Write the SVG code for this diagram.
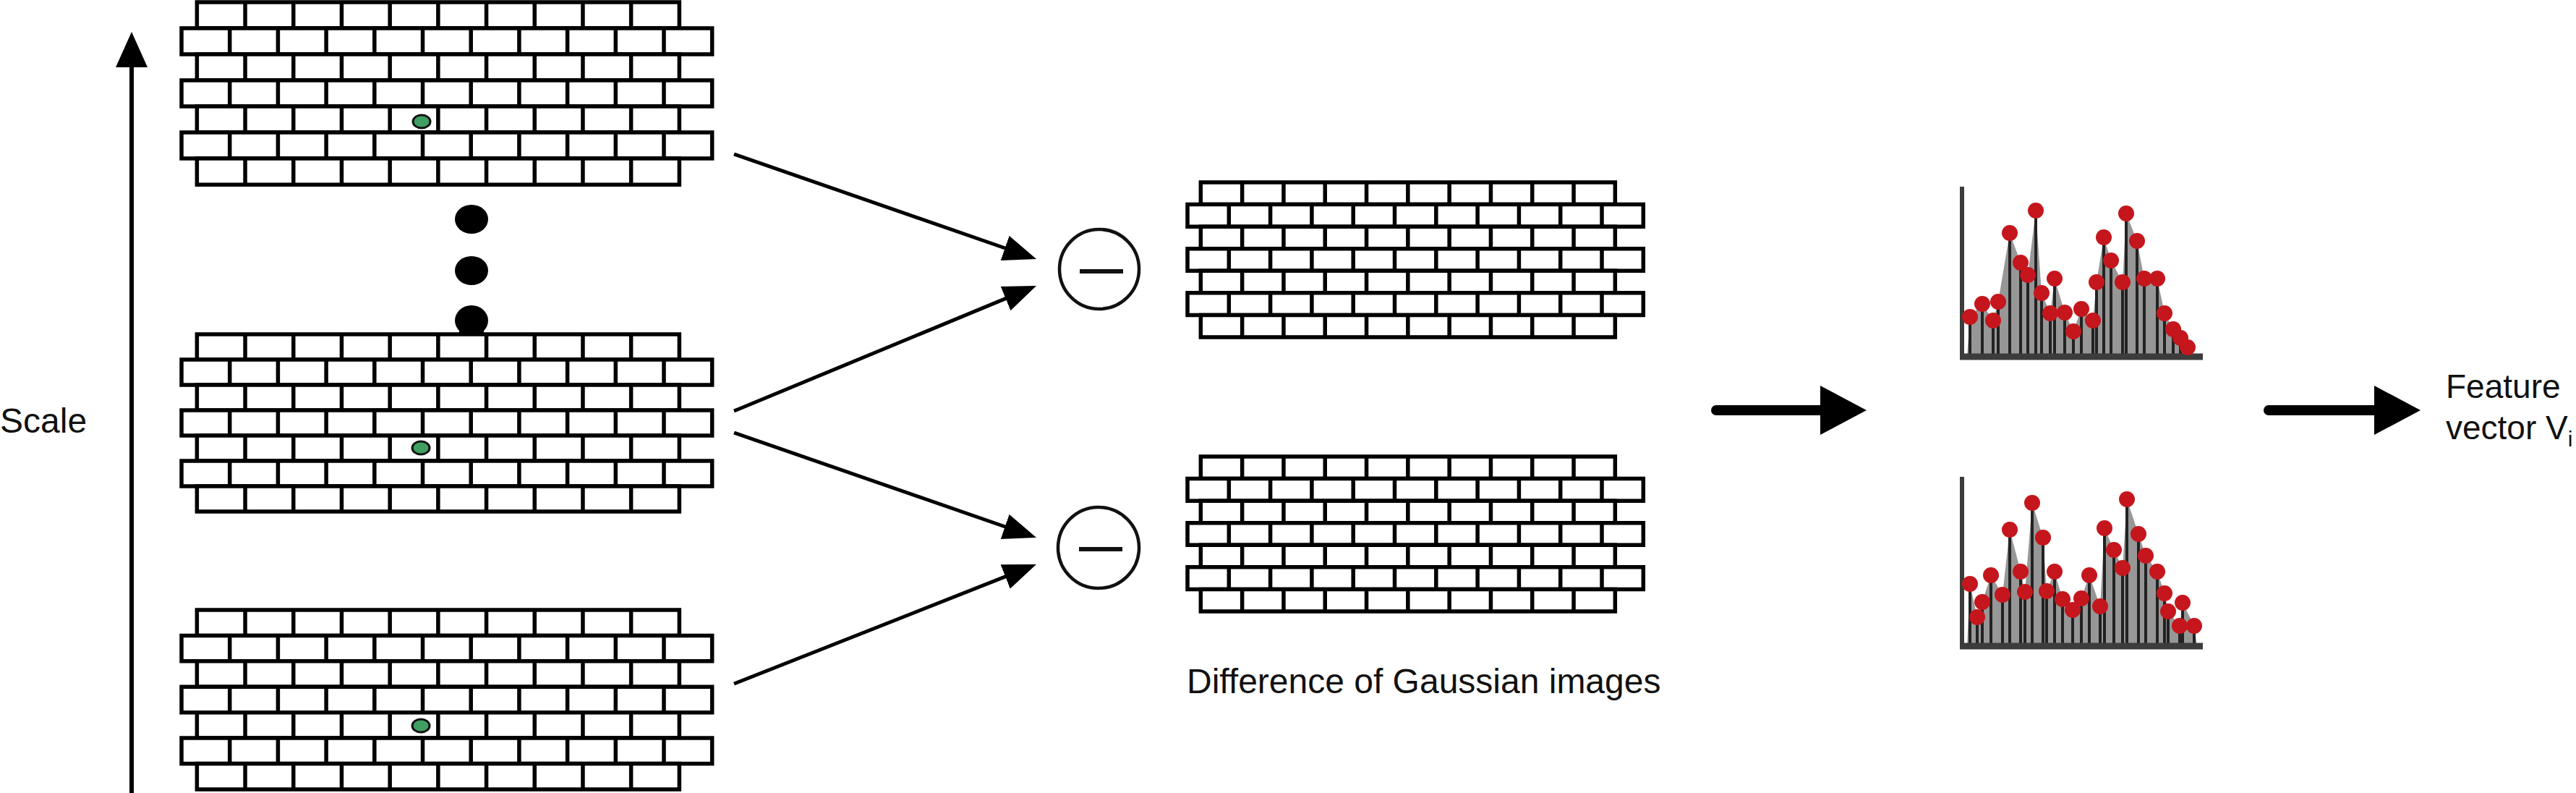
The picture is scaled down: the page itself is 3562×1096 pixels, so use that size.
<svg xmlns="http://www.w3.org/2000/svg" xmlns:xlink="http://www.w3.org/1999/xlink" width="3562" height="1096" viewBox="0 0 3562 1096">
<style>
text{font-family:"Liberation Sans",Arial,Helvetica,sans-serif;fill:#111}
.gd{fill:#3f9f62;stroke:#111;stroke-width:3}
.blk{fill:#000}
.conn{stroke:#000;stroke-width:5;fill:none}
.big{stroke:#000;stroke-width:14;fill:none;stroke-linecap:round}
.minus circle{fill:#fff;stroke:#111;stroke-width:4.5}
.minus line{stroke:#111;stroke-width:6}
.ax{stroke:#3c3c3c;fill:none}
.env{fill:#979797}
.stem{stroke:#222;stroke-width:4;fill:none}
.rd{fill:#c4161c}
</style>
<defs>
<marker id="ah" markerUnits="userSpaceOnUse" viewBox="0 0 46 36" markerWidth="46" markerHeight="36" refX="11" refY="18" orient="auto"><path d="M0,0L46,18L0,36Z" fill="#000"/></marker>
<marker id="bh" markerUnits="userSpaceOnUse" viewBox="0 0 64 68" markerWidth="64" markerHeight="68" refX="2" refY="34" orient="auto"><path d="M0,0L64,34L0,68Z" fill="#000"/></marker>
<g id="wall" fill="#fff" stroke="#000" stroke-width="5.5">
<rect x="32" y="0" width="1000" height="54" vector-effect="non-scaling-stroke"/>
<rect x="0" y="54" width="1100" height="54" vector-effect="non-scaling-stroke"/>
<rect x="32" y="108" width="1000" height="54" vector-effect="non-scaling-stroke"/>
<rect x="0" y="162" width="1100" height="54" vector-effect="non-scaling-stroke"/>
<rect x="32" y="216" width="1000" height="54" vector-effect="non-scaling-stroke"/>
<rect x="0" y="270" width="1100" height="54" vector-effect="non-scaling-stroke"/>
<rect x="32" y="324" width="1000" height="54" vector-effect="non-scaling-stroke"/>
<path fill="none" vector-effect="non-scaling-stroke" d="M132 0V54M232 0V54M332 0V54M432 0V54M532 0V54M632 0V54M732 0V54M832 0V54M932 0V54
M100 54V108M200 54V108M300 54V108M400 54V108M500 54V108M600 54V108M700 54V108M800 54V108M900 54V108M1000 54V108
M132 108V162M232 108V162M332 108V162M432 108V162M532 108V162M632 108V162M732 108V162M832 108V162M932 108V162
M100 162V216M200 162V216M300 162V216M400 162V216M500 162V216M600 162V216M700 162V216M800 162V216M900 162V216M1000 162V216
M132 216V270M232 216V270M332 216V270M432 216V270M532 216V270M632 216V270M732 216V270M832 216V270M932 216V270
M100 270V324M200 270V324M300 270V324M400 270V324M500 270V324M600 270V324M700 270V324M800 270V324M900 270V324M1000 270V324
M132 324V378M232 324V378M332 324V378M432 324V378M532 324V378M632 324V378M732 324V378M832 324V378M932 324V378"/>
</g>
</defs>

<g id="scale-axis">
<line x1="182" y1="1096" x2="182" y2="90" stroke="#000" stroke-width="6"/>
<polygon points="182,44 160,93 204,93" fill="#000"/>
</g>
<g id="scale-label"><text x="0" y="598" font-size="48">Scale</text></g>

<g id="wall-1">
<use xlink:href="#wall" href="#wall" transform="translate(251,3) scale(0.667,0.667)"/>
<ellipse class="gd" cx="583" cy="168" rx="12" ry="9"/>
</g>
<g id="ellipsis">
<ellipse class="blk" cx="652" cy="303" rx="23" ry="20"/>
<ellipse class="blk" cx="652" cy="374" rx="23" ry="20"/>
<ellipse class="blk" cx="652" cy="443" rx="23" ry="21"/>
<rect class="blk" x="635" y="443" width="34" height="21"/>
</g>
<g id="wall-2">
<use xlink:href="#wall" href="#wall" transform="translate(251,462) scale(0.667,0.6481)"/>
<ellipse class="gd" cx="582" cy="619" rx="12" ry="9"/>
</g>
<g id="wall-3">
<use xlink:href="#wall" href="#wall" transform="translate(251,843) scale(0.667,0.656)"/>
<ellipse class="gd" cx="582" cy="1003" rx="12" ry="9"/>
</g>

<g id="minus-1" class="minus">
<circle cx="1520" cy="372" r="55"/>
<line x1="1493" y1="375" x2="1553" y2="375"/>
</g>
<g id="minus-2" class="minus">
<circle cx="1519" cy="757" r="56"/>
<line x1="1492" y1="759" x2="1552" y2="759"/>
</g>

<g id="dog-1"><use xlink:href="#wall" href="#wall" transform="translate(1642,252) scale(0.573,0.566)"/></g>
<g id="dog-2"><use xlink:href="#wall" href="#wall" transform="translate(1642,631) scale(0.573,0.566)"/></g>
<g id="dog-label"><text x="1641" y="958" font-size="48">Difference of Gaussian images</text></g>

<g id="hist-1">
<polygon class="env" points="2720,493 2724,438 2741,420 2756,443 2763,417 2779,322 2794,363 2804,380 2815,291 2823,405 2835,433 2841,385 2855,432 2867,458 2878,427 2894,443 2899,390 2909,328 2919,360 2935,390 2940,295 2955,333 2965,385 2983,385 2993,433 3005,455 3015,467 3025,480 3030,493"/>
<path class="stem" d="M2724 438V493M2741 420V493M2756 443V493M2763 417V493M2779 322V493M2794 363V493M2804 380V493M2815 291V493M2823 405V493M2835 433V493M2841 385V493M2855 432V493M2867 458V493M2878 427V493M2894 443V493M2899 390V493M2909 328V493M2919 360V493M2935 390V493M2940 295V493M2955 333V493M2965 385V493M2983 385V493M2993 433V493M3005 455V493M3015 467V493M3025 480V493"/>
<path class="ax" stroke-width="6" d="M2713 258V497"/>
<path class="ax" stroke-width="9" d="M2710 493H3046"/>
<g class="rd">
<circle cx="2724" cy="438" r="11"/><circle cx="2741" cy="420" r="11"/><circle cx="2756" cy="443" r="11"/><circle cx="2763" cy="417" r="11"/><circle cx="2779" cy="322" r="11"/><circle cx="2794" cy="363" r="11"/><circle cx="2804" cy="380" r="11"/><circle cx="2815" cy="291" r="11"/><circle cx="2823" cy="405" r="11"/><circle cx="2835" cy="433" r="11"/><circle cx="2841" cy="385" r="11"/><circle cx="2855" cy="432" r="11"/><circle cx="2867" cy="458" r="11"/><circle cx="2878" cy="427" r="11"/><circle cx="2894" cy="443" r="11"/><circle cx="2899" cy="390" r="11"/><circle cx="2909" cy="328" r="11"/><circle cx="2919" cy="360" r="11"/><circle cx="2935" cy="390" r="11"/><circle cx="2940" cy="295" r="11"/><circle cx="2955" cy="333" r="11"/><circle cx="2965" cy="385" r="11"/><circle cx="2983" cy="385" r="11"/><circle cx="2993" cy="433" r="11"/><circle cx="3005" cy="455" r="11"/><circle cx="3015" cy="467" r="11"/><circle cx="3025" cy="480" r="11"/>
</g>
</g>

<g id="hist-2">
<polygon class="env" points="2720,893 2724,807 2734,853 2741,832 2753,795 2769,822 2779,732 2794,790 2800,818 2810,695 2825,743 2830,817 2841,790 2852,828 2866,843 2878,827 2889,795 2904,838 2910,730 2923,760 2935,785 2941,690 2957,738 2967,768 2983,790 2993,820 2998,845 3014,865 3018,833 3034,865 3038,893"/>
<path class="stem" d="M2724 807V893M2734 853V893M2741 832V893M2753 795V893M2769 822V893M2779 732V893M2794 790V893M2800 818V893M2810 695V893M2825 743V893M2830 817V893M2841 790V893M2852 828V893M2866 843V893M2878 827V893M2889 795V893M2904 838V893M2910 730V893M2923 760V893M2935 785V893M2941 690V893M2957 738V893M2967 768V893M2983 790V893M2993 820V893M2998 845V893M3014 865V893M3018 833V893M3034 865V893"/>
<path class="ax" stroke-width="6" d="M2713 659V897"/>
<path class="ax" stroke-width="9" d="M2710 893H3046"/>
<g class="rd">
<circle cx="2724" cy="807" r="11"/><circle cx="2734" cy="853" r="11"/><circle cx="2741" cy="832" r="11"/><circle cx="2753" cy="795" r="11"/><circle cx="2769" cy="822" r="11"/><circle cx="2779" cy="732" r="11"/><circle cx="2794" cy="790" r="11"/><circle cx="2800" cy="818" r="11"/><circle cx="2810" cy="695" r="11"/><circle cx="2825" cy="743" r="11"/><circle cx="2830" cy="817" r="11"/><circle cx="2841" cy="790" r="11"/><circle cx="2852" cy="828" r="11"/><circle cx="2866" cy="843" r="11"/><circle cx="2878" cy="827" r="11"/><circle cx="2889" cy="795" r="11"/><circle cx="2904" cy="838" r="11"/><circle cx="2910" cy="730" r="11"/><circle cx="2923" cy="760" r="11"/><circle cx="2935" cy="785" r="11"/><circle cx="2941" cy="690" r="11"/><circle cx="2957" cy="738" r="11"/><circle cx="2967" cy="768" r="11"/><circle cx="2983" cy="790" r="11"/><circle cx="2993" cy="820" r="11"/><circle cx="2998" cy="845" r="11"/><circle cx="3014" cy="865" r="11"/><circle cx="3018" cy="833" r="11"/><circle cx="3034" cy="865" r="11"/>
</g>
</g>

<g id="feature-label">
<text x="3382" y="550" font-size="46">Feature</text>
<text x="3382" y="607" font-size="46">vector V<tspan font-size="30" dy="10">i</tspan></text>
</g>

<g id="connectors">
<line class="conn" x1="1015" y1="213" x2="1400" y2="346.5" marker-end="url(#ah)"/>
<line class="conn" x1="1015" y1="568" x2="1400.7" y2="408.4" marker-end="url(#ah)"/>
<line class="conn" x1="1015" y1="598" x2="1400" y2="731.5" marker-end="url(#ah)"/>
<line class="conn" x1="1015" y1="945" x2="1400.4" y2="792.9" marker-end="url(#ah)"/>
<line class="big" x1="2373" y1="567" x2="2519" y2="567" marker-end="url(#bh)"/>
<line class="big" x1="3137" y1="567" x2="3285" y2="567" marker-end="url(#bh)"/>
</g>
</svg>
